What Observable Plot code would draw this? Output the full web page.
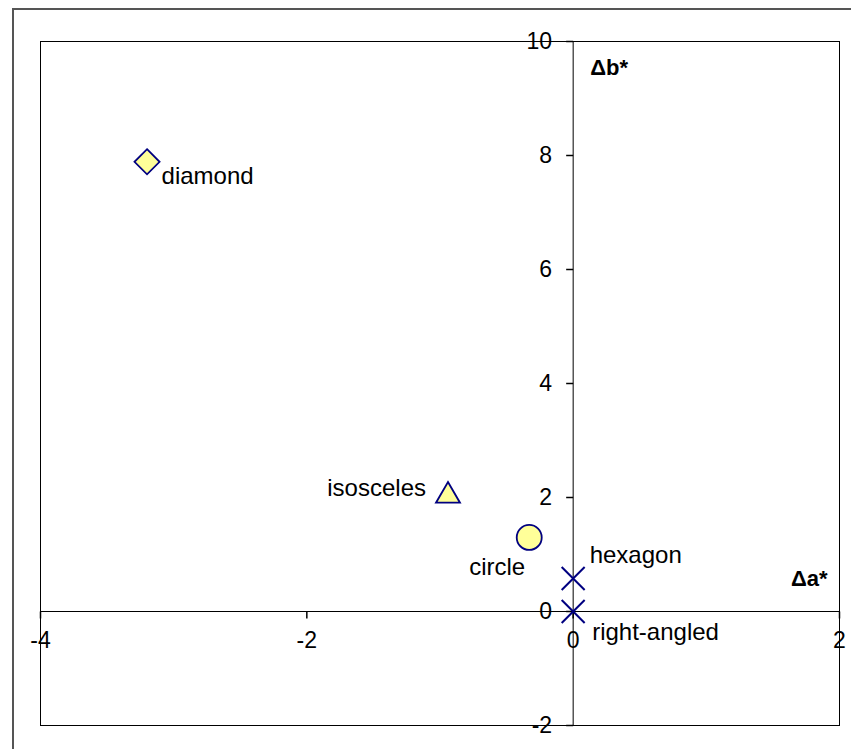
<!DOCTYPE html>
<html>
<head>
<meta charset="utf-8">
<script src="https://cdn.jsdelivr.net/npm/d3@7"></script>
<script src="https://cdn.jsdelivr.net/npm/@observablehq/plot@0.6"></script>
<style>
  html, body { margin: 0; padding: 0; background: #fff; }
  #wrap { position: relative; width: 851px; height: 749px; overflow: hidden; }
  #outer { position: absolute; left: 12px; top: 8px; width: 900px; height: 800px;
           border-left: 2px solid #555; border-top: 2px solid #555; box-sizing: border-box; }
  #chart { position: absolute; left: 0; top: 0; }
</style>
</head>
<body>
<div id="wrap"><div id="outer"></div><div id="chart"></div></div>
<script>
// ---- data ----
const shapes = ["diamond", "isosceles", "circle", "hexagon", "right-angled"];
const deltaA = [-3.2, -0.94, -0.33, 0, 0];
const deltaB = [7.89, 2.03, 1.30, 0.58, 0];
const xTicks = [-4, -2, 0, 2];
const yTicks = [-2, 0, 2, 4, 6, 8, 10];
const xTitle = "Δa*";
const yTitle = "Δb*";

// ---- styles (marker look and label placement) ----
const navy = "#000080", yellow = "#FFFF99";
const style = {
  "diamond":      {symbol: "diamond2", r: 11.3, fill: yellow, dx: 14.5, dy: 15,  anchor: "start"},
  "isosceles":    {symbol: "triangle", r: 8.9,  fill: yellow, dx: -22,  dy: -7,  anchor: "end"},
  "circle":       {symbol: "circle",   r: 12.5, fill: yellow, dx: -4,   dy: 29.5, anchor: "end"},
  "hexagon":      {symbol: "times",    r: 10.5, fill: "none", dx: 16.5, dy: -23, anchor: "start"},
  "right-angled": {symbol: "times",    r: 10.5, fill: "none", dx: 19,   dy: 21,  anchor: "start"}
};
const points = shapes.map((s, i) => ({shape: s, a: deltaA[i], b: deltaB[i]}));

const tickDown = {draw(c) { c.moveTo(0, 0); c.lineTo(0, 7); }};
const tickLeft = {draw(c) { c.moveTo(0, 0); c.lineTo(-7, 0); }};

const font = "Arial, 'Liberation Sans', sans-serif";
const fs = 23;
const labelFs = 24;

const marks = [
  Plot.ruleY([0], {stroke: "black", strokeWidth: 1}),
  Plot.ruleX([0], {stroke: "black", strokeWidth: 1}),
  Plot.dot(xTicks, {x: d => d, y: () => 0, symbol: tickDown, stroke: "black", fill: "none", r: 3}),
  Plot.dot(yTicks, {x: () => 0, y: d => d, symbol: tickLeft, stroke: "black", fill: "none", r: 3}),
  Plot.text(xTicks, {x: d => d, y: () => 0, text: d => String(d), dy: 29, fontSize: fs, fill: "black", lineAnchor: "middle", textAnchor: "middle"}),
  Plot.text(yTicks, {x: () => 0, y: d => d, text: d => String(d), dx: -21, fontSize: fs, fill: "black", lineAnchor: "middle", textAnchor: "end"}),
  Plot.text([yTitle], {x: () => 0, y: () => 10, text: d => d, dx: 17, dy: 26, fontSize: 22, fontWeight: "bold", fill: "black", textAnchor: "start", lineAnchor: "middle"}),
  Plot.text([xTitle], {x: () => 2, y: () => 0, text: d => d, dx: -12, dy: -33, fontSize: 22, fontWeight: "bold", fill: "black", textAnchor: "end", lineAnchor: "middle"}),
  ...points.map(p => {
    const s = style[p.shape];
    return Plot.dot([p], {x: "a", y: "b", symbol: () => s.symbol, r: s.r, fill: s.fill, stroke: navy,
                          strokeWidth: s.fill === "none" ? 2 : 1.8});
  }),
  ...points.map(p => {
    const s = style[p.shape];
    return Plot.text([p], {x: "a", y: "b", text: "shape", dx: s.dx, dy: s.dy, textAnchor: s.anchor,
                           lineAnchor: "middle", fontSize: labelFs, fill: "black"});
  }),
  Plot.frame({stroke: "black", strokeWidth: 1})
];

const chart = Plot.plot({
  width: 851,
  height: 749,
  marginLeft: 40,
  marginTop: 41,
  marginRight: 12,
  marginBottom: 24,
  x: {domain: [-4, 2], axis: null},
  y: {domain: [-2, 10], axis: null},
  symbol: {type: "identity"},
  style: {fontFamily: font, fontSize: fs + "px", background: "transparent", overflow: "visible"},
  marks
});
document.getElementById("chart").appendChild(chart);
</script>
</body>
</html>
